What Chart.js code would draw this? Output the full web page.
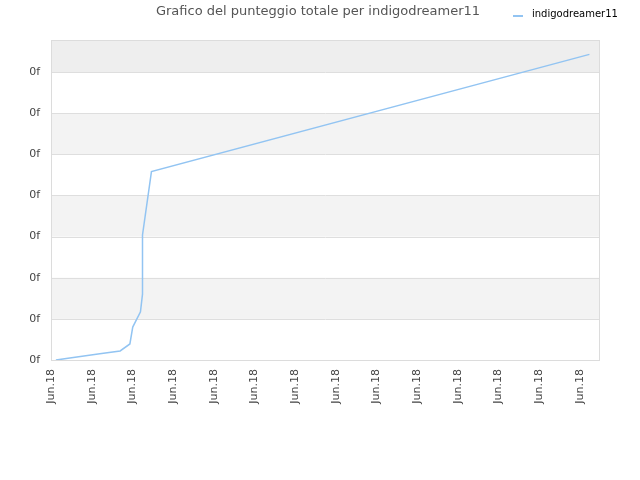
<!DOCTYPE html>
<html lang="it">
<head>
<meta charset="UTF-8">
<title>Grafico del punteggio totale per indigodreamer11</title>
<script src="https://cdn.jsdelivr.net/npm/chart.js"></script>
<style>
    html, body { margin: 0; padding: 0; background: #fff; }
    #wrap { width: 640px; height: 480px; position: relative; }
</style>
</head>
<body>
<div id="wrap"><canvas id="chart"></canvas></div>
<script>
    // data (x in tick steps, y in grid steps)
    var seriesName = 'indigodreamer11';
    var titleText = 'Grafico del punteggio totale per indigodreamer11';
    var xPos = [0.12, 0.42, 1.20, 1.70, 1.94, 2.01, 2.20, 2.25, 2.25, 2.47, 13.24];
    var scores = [0.00, 0.04, 0.15, 0.22, 0.39, 0.80, 1.17, 1.60, 3.04, 4.58, 7.43];
    var xTickLabels = ['Jun.18', 'Jun.18', 'Jun.18', 'Jun.18', 'Jun.18', 'Jun.18', 'Jun.18',
        'Jun.18', 'Jun.18', 'Jun.18', 'Jun.18', 'Jun.18', 'Jun.18', 'Jun.18'];
    var yTickLabels = ['0f', '0f', '0f', '0f', '0f', '0f', '0f', '0f'];

    var lineColor = '#92c4f2';

    // alternating background bands + outer border
    var bands = {
        id: 'bands',
        beforeDatasetsDraw: function (chart) {
            var ctx = chart.ctx, a = chart.chartArea, y = chart.scales.y;
            ctx.save();
            for (var i = 0; i < 8; i++) {
                var top = y.getPixelForValue(Math.min(i + 1, y.max));
                var bot = y.getPixelForValue(i);
                if (i === 7) ctx.fillStyle = '#eeeeee';
                else if (i % 2 === 1) ctx.fillStyle = '#f3f3f3';
                else continue;
                ctx.fillRect(a.left, top, a.right - a.left, bot - top);
            }
            // grid lines on top of bands
            ctx.strokeStyle = '#dedede';
            ctx.lineWidth = 1;
            for (var j = 1; j < 8; j++) {
                var py = Math.round(y.getPixelForValue(j)) + 0.5;
                ctx.beginPath();
                ctx.moveTo(a.left, py);
                ctx.lineTo(a.right, py);
                ctx.stroke();
            }
            ctx.strokeStyle = '#dcdcdc';
            ctx.strokeRect(Math.round(a.left) + 0.5, Math.round(a.top) + 0.5,
                Math.round(a.right - a.left) - 1, Math.round(a.bottom - a.top));
            ctx.restore();
        }
    };

    // title and legend on one row
    var header = {
        id: 'header',
        afterDraw: function (chart) {
            var ctx = chart.ctx;
            ctx.save();
            ctx.font = '13px "DejaVu Sans"';
            ctx.fillStyle = '#555';
            ctx.textAlign = 'center';
            ctx.textBaseline = 'middle';
            ctx.fillText(titleText, 318, 12);
            ctx.strokeStyle = lineColor;
            ctx.lineWidth = 2;
            ctx.beginPath();
            ctx.moveTo(513, 16);
            ctx.lineTo(523, 16);
            ctx.stroke();
            ctx.font = '10px "DejaVu Sans"';
            ctx.fillStyle = '#000';
            ctx.textAlign = 'left';
            ctx.fillText(seriesName, 532, 14);
            ctx.restore();
        }
    };

    var points = xPos.map(function (x, i) { return { x: x, y: scores[i] }; });

    new Chart(document.getElementById('chart'), {
        type: 'line',
        data: {
            datasets: [{
                label: seriesName,
                data: points,
                borderColor: lineColor,
                borderWidth: 1.5,
                pointRadius: 0,
                tension: 0,
                fill: false
            }]
        },
        options: {
            responsive: true,
            maintainAspectRatio: false,
            animation: false,
            layout: { padding: { top: 40, right: 40, left: 0, bottom: 0 } },
            plugins: {
                legend: { display: false },
                title: { display: false },
                tooltip: { enabled: false }
            },
            scales: {
                x: {
                    type: 'linear',
                    min: 0,
                    max: 13.5,
                    grid: { display: false, drawTicks: false },
                    border: { display: false },
                    afterFit: function (s) { s.height = 120; },
                    ticks: {
                        stepSize: 1,
                        includeBounds: false,
                        minRotation: 90,
                        maxRotation: 90,
                        padding: 9,
                        color: '#444',
                        font: { family: 'DejaVu Sans', size: 11 },
                        callback: function (v, i) { return xTickLabels[i]; }
                    }
                },
                y: {
                    min: 0,
                    max: 7.78,
                    grid: { display: false, drawTicks: false },
                    border: { display: false },
                    afterFit: function (s) { s.width = 51; },
                    ticks: {
                        stepSize: 1,
                        includeBounds: false,
                        padding: 11,
                        color: '#444',
                        font: { family: 'DejaVu Sans', size: 11 },
                        callback: function (v, i) { return yTickLabels[i]; }
                    }
                }
            }
        },
        plugins: [bands, header]
    });
</script>
</body>
</html>
